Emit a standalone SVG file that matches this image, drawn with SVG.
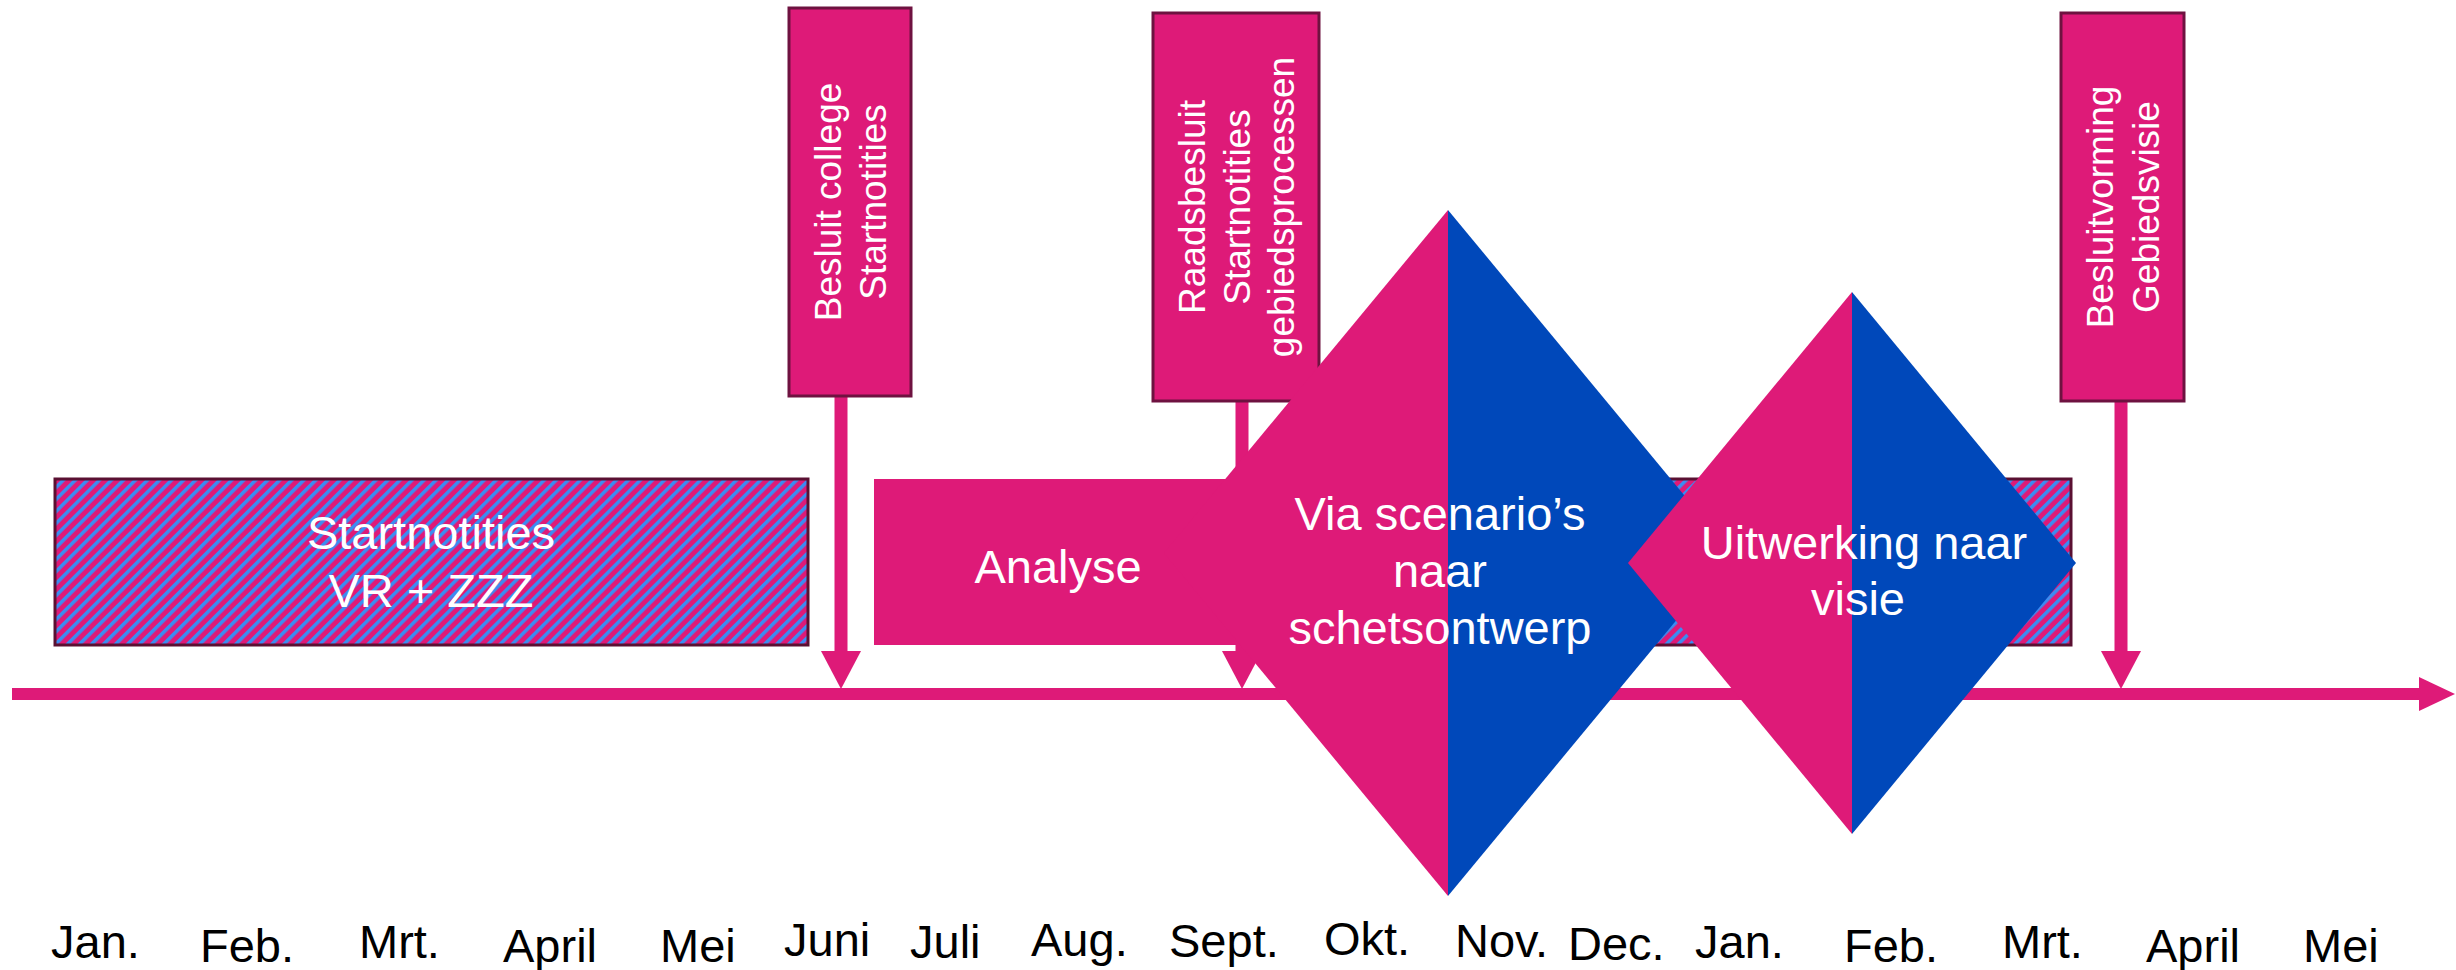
<svg xmlns="http://www.w3.org/2000/svg" width="2456" height="970" viewBox="0 0 2456 970">
<defs>
<pattern id="hatch" patternUnits="userSpaceOnUse" width="8.5" height="8.5" patternTransform="rotate(45)">
<rect x="0" y="0" width="8.5" height="8.5" fill="#DE1A78"/>
<rect x="0" y="0" width="3.5" height="8.5" fill="#3A8DF2"/>
</pattern>
<marker id="ah" markerUnits="userSpaceOnUse" markerWidth="38" markerHeight="40" viewBox="0 0 38 40" refX="4" refY="20" orient="auto">
<path d="M0,0 L38,20 L0,40 z" fill="#DE1A78"/>
</marker>
<marker id="ahT" markerUnits="userSpaceOnUse" markerWidth="36" markerHeight="34" viewBox="0 0 36 34" refX="4" refY="17" orient="auto">
<path d="M0,0 L36,17 L0,34 z" fill="#DE1A78"/>
</marker>
</defs>
<style>
.box{fill:#DE1A78;stroke:#6E1240;stroke-width:3}
.hbox{fill:url(#hatch);stroke:#5A1032;stroke-width:3}
.pink{fill:#DE1A78}
.blue{fill:#0048BA}
.conn{stroke:#DE1A78;stroke-width:13;fill:none}
.wt{font-family:"Liberation Sans",Arial,sans-serif;fill:#FFFFFF;font-size:47px;text-anchor:middle}
.vt{font-family:"Liberation Sans",Arial,sans-serif;fill:#FFFFFF;font-size:37px;text-anchor:middle}
.mt{font-family:"Liberation Sans",Arial,sans-serif;fill:#000000;font-size:47px}
</style>
<rect width="2456" height="970" fill="#FFFFFF"/>

<g id="timeline-conn">
<line x1="12" y1="694" x2="2423" y2="694" stroke="#DE1A78" stroke-width="12" marker-end="url(#ahT)"/>
</g>

<g id="startnotities">
<rect class="hbox" x="55" y="479" width="753" height="166"/>
<text class="wt" x="431" y="549">Startnotities</text>
<text class="wt" x="431" y="607">VR + ZZZ</text>
</g>

<g id="uitwerking-band">
<rect class="hbox" x="1242" y="479" width="829" height="166"/>
</g>

<g id="connectors">
<line class="conn" x1="841" y1="396" x2="841" y2="655" marker-end="url(#ah)"/>
<line class="conn" x1="1242" y1="401" x2="1242" y2="655" marker-end="url(#ah)"/>
<line class="conn" x1="2121" y1="401" x2="2121" y2="655" marker-end="url(#ah)"/>
</g>

<g id="analyse">
<rect class="pink" x="874" y="479" width="368" height="166"/>
<text class="wt" x="1058" y="583">Analyse</text>
</g>

<g id="besluit-college">
<rect class="box" x="789" y="8" width="122" height="388"/>
<text class="vt" transform="translate(841,202) rotate(-90)"><tspan x="0" y="0">Besluit college</tspan><tspan x="0" y="44.5">Startnotities</tspan></text>
</g>

<g id="raadsbesluit">
<rect class="box" x="1153" y="13" width="166" height="388"/>
<text class="vt" transform="translate(1205,207) rotate(-90)"><tspan x="0" y="0">Raadsbesluit</tspan><tspan x="0" y="44.5">Startnotities</tspan><tspan x="0" y="89">gebiedsprocessen</tspan></text>
</g>

<g id="besluitvorming">
<rect class="box" x="2061" y="13" width="123" height="388"/>
<text class="vt" transform="translate(2113,207) rotate(-90)"><tspan x="0" y="0">Besluitvorming</tspan><tspan x="0" y="45.5">Gebiedsvisie</tspan></text>
</g>

<g id="diamond-scenarios">
<polygon class="pink" points="1448,210 1164,553 1448,896"/>
<polygon class="blue" points="1448,210 1732,553 1448,896"/>
<text class="wt" x="1440" y="530">Via scenario’s</text>
<text class="wt" x="1440" y="587">naar</text>
<text class="wt" x="1440" y="644">schetsontwerp</text>
</g>

<g id="diamond-uitwerking">
<polygon class="pink" points="1852,292 1628,563 1852,834"/>
<polygon class="blue" points="1852,292 2076,563 1852,834"/>
<text class="wt" x="1864" y="559">Uitwerking naar</text>
<text class="wt" x="1858" y="615">visie</text>
</g>

<g id="months">
<text class="mt" x="51" y="958">Jan.</text>
<text class="mt" x="200" y="962">Feb.</text>
<text class="mt" x="359" y="958">Mrt.</text>
<text class="mt" x="503" y="962">April</text>
<text class="mt" x="660" y="962">Mei</text>
<text class="mt" x="784" y="956">Juni</text>
<text class="mt" x="910" y="958">Juli</text>
<text class="mt" x="1031" y="956">Aug.</text>
<text class="mt" x="1169" y="957">Sept.</text>
<text class="mt" x="1324" y="955">Okt.</text>
<text class="mt" x="1455" y="957">Nov.</text>
<text class="mt" x="1568" y="960">Dec.</text>
<text class="mt" x="1695" y="958">Jan.</text>
<text class="mt" x="1844" y="962">Feb.</text>
<text class="mt" x="2002" y="958">Mrt.</text>
<text class="mt" x="2146" y="962">April</text>
<text class="mt" x="2303" y="962">Mei</text>
</g>
</svg>
